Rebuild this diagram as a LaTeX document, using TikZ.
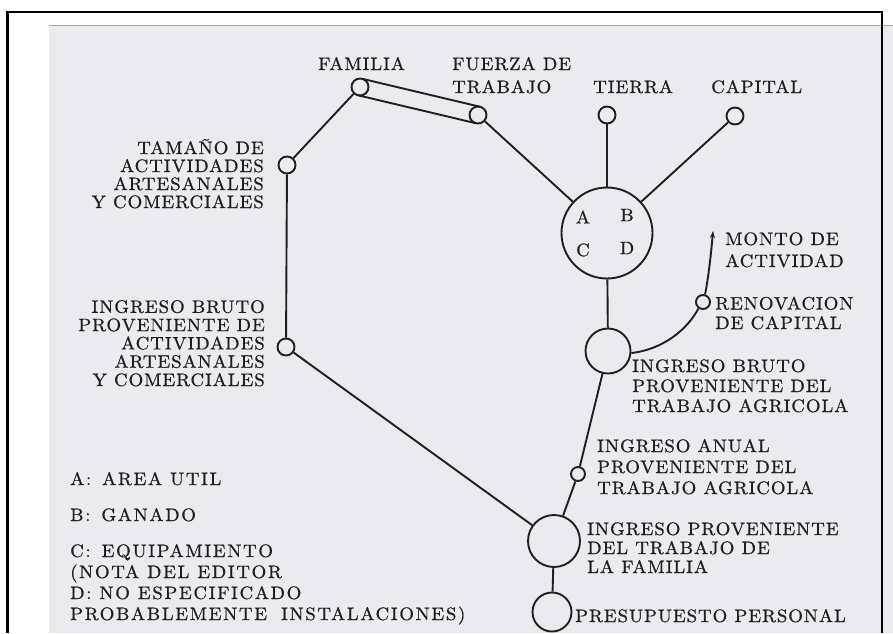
\documentclass[tikz,border=0pt]{standalone}
\usepackage{fontspec}
\setmainfont{lmroman10-regular.otf}[FakeStretch=1.05,LetterSpace=5,FakeBold=0.7]
\newfontfamily\legfont{lmroman10-regular.otf}[FakeStretch=1.05,LetterSpace=9,FakeBold=0.7]
\usetikzlibrary{calc,arrows.meta}
\definecolor{paper}{HTML}{EAEAF0}
\definecolor{ink}{HTML}{1F1F22}
\begin{document}
\begin{tikzpicture}[x=1pt,y=-1pt,
  inkline/.style={draw=ink, line width=1.9pt},
  dot/.style={circle, draw=ink, line width=1.9pt, inner sep=0pt},
  lbl/.style={inner sep=0pt, text=ink, font=\fontsize{18}{18}\selectfont},
  lsk/.style={font=\fontsize{18}{#1}\selectfont},
  leg/.style={inner sep=0pt, text=ink, font=\legfont\fontsize{18}{#1}\selectfont},
]
\useasboundingbox (0,0) rectangle (893,633);
\fill[white] (0,0) rectangle (893,633);
\fill[paper] (49,25) rectangle (893,633);
\draw[gray!70, line width=1pt] (49,25) -- (893,25);
\draw[black, line width=2.2pt] (7.5,633) -- (7.5,12) -- (882,12) -- (882,633);

% circles
\node[dot, minimum size=17pt] (fam) at (360,87) {};
\node[dot, minimum size=17pt] (fue) at (478,115) {};
\node[dot, minimum size=17pt] (tie) at (607,115) {};
\node[dot, minimum size=17pt] (cap) at (735,116) {};
\node[dot, minimum size=17pt] (tam) at (287,165) {};
\node[dot, minimum size=17pt] (art) at (286,347) {};
\node[dot, minimum size=91pt] (abcd) at (607,233) {};
\node[dot, minimum size=45pt] (bru) at (608,351) {};
\node[dot, minimum size=14pt] (ren) at (703,302) {};
\node[dot, minimum size=14pt] (anu) at (578,474) {};
\node[dot, minimum size=52pt] (fami) at (554,541) {};
\node[dot, minimum size=39pt] (pre) at (552,612) {};
\coordinate (tip) at (713,231);

% connectors
\draw[inkline] (fam) -- (tam);
\draw[inkline] ($(fam)!8.5pt!90:(fue)$) -- ($(fue)!8.5pt!-90:(fam)$);
\draw[inkline] ($(fam)!8.5pt!-90:(fue)$) -- ($(fue)!8.5pt!90:(fam)$);
\draw[inkline] (fue) -- (abcd);
\draw[inkline] (tie) -- (abcd);
\draw[inkline] (cap) -- (abcd);
\draw[inkline] (tam) -- (art);
\draw[inkline] (abcd) -- (bru);
\draw[inkline] (bru) -- (anu);
\draw[inkline] (anu) -- (fami);
\draw[inkline] (art) -- (fami);
\draw[inkline] (fami) -- (pre);
\draw[inkline] (bru.-5) .. controls (665,349) and (688,328) .. (ren.235);
\draw[inkline, -{Stealth[length=7pt,width=5pt]}] (ren.75) .. controls (708,280) and (711,255) .. (tip);

% letters in big circle
\node[lbl] (la) at (583,217) {A};
\node[lbl] (lb) at (627,215) {B};
\node[lbl] (lc) at (583,250) {C};
\node[lbl] (ld) at (627,248) {D};

% labels (base anchor = baseline of the last line)
\node[lbl, anchor=base west] (lfam) at (318,70) {FAMILIA};
\node[lbl, lsk=23, anchor=base west, align=left] (lfue) at (452,93) {FUERZA DE\\TRABAJO};
\node[lbl, anchor=base west] (ltie) at (593,93) {TIERRA};
\node[lbl, anchor=base west] (lcap) at (711,93) {CAPITAL};
\node[lbl, lsk=18, anchor=base east, align=right] (ltam) at (264,208) {TAMAÑO DE\\ACTIVIDADES\\ARTESANALES\\Y COMERCIALES};
\node[lbl, lsk=18.3, anchor=base east, align=right] (lart) at (265,386) {INGRESO BRUTO\\PROVENIENTE DE\\ACTIVIDADES\\ARTESANALES\\Y COMERCIALES};
\node[lbl, lsk=22, anchor=base west, align=left] (lmon) at (725,267) {MONTO DE\\ACTIVIDAD};
\node[lbl, lsk=19.5, anchor=base west, align=left] (lren) at (715,329) {RENOVACION\\DE CAPITAL};
\node[lbl, lsk=20, anchor=base west, align=left] (lbru) at (632,412) {INGRESO BRUTO\\PROVENIENTE DEL\\TRABAJO AGRICOLA};
\node[lbl, lsk=21, anchor=base west, align=left] (lanu) at (597,494) {INGRESO ANUAL\\PROVENIENTE DEL\\TRABAJO AGRICOLA};
\node[lbl, lsk=19, anchor=base west, align=left] (lfami) at (587,573) {INGRESO PROVENIENTE\\DEL TRABAJO DE\\LA FAMILIA};
\node[lbl, anchor=base west] (lpre) at (575,622) {PRESUPUESTO PERSONAL};
\node[leg=18, anchor=base west] (legA) at (70,485) {A:\hspace{3pt} AREA UTIL};
\node[leg=18, anchor=base west] (legB) at (70,521) {B:\hspace{3pt} GANADO};
\node[leg=21, anchor=base west, align=left] (legC) at (70,620) {C:\hspace{3pt} EQUIPAMIENTO\\(NOTA DEL EDITOR\\D: NO ESPECIFICADO\\PROBABLEMENTE\hspace{6pt} INSTALACIONES)};
\end{tikzpicture}
\end{document}
